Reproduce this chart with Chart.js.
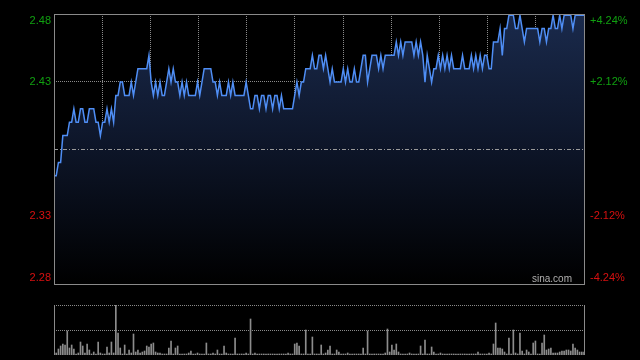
<!DOCTYPE html>
<html>
<head>
<meta charset="utf-8">
<script src="https://cdn.jsdelivr.net/npm/chart.js@4.4.1/dist/chart.umd.min.js"></script>
<style>
  html, body { margin: 0; padding: 0; background: #000; width: 640px; height: 360px; overflow: hidden; }
  canvas { position: absolute; left: 0; }
  #main { top: 0; }
  #vol { top: 300px; }
</style>
</head>
<body>
<canvas id="main" width="640" height="300"></canvas>
<canvas id="vol" width="640" height="60"></canvas>
<script>
// ---- data ----
const prevClose = 2.38;
const maxPct = 4.24;
const leftTickValues = [2.48, 2.43, 2.33, 2.28];
const leftTickLabels = ['2.48', '2.43', '2.33', '2.28'];
const rightTickLabels = ['+4.24%', '+2.12%', '-2.12%', '-4.24%'];
const tickColors = ['#10a010', '#10a010', '#d81010', '#d81010'];

const prices = [
  2.36,2.36,2.37,2.37,2.39,2.39,2.39,2.40,2.40,2.41,
  2.40,2.40,2.41,2.41,2.40,2.40,2.41,2.41,2.41,2.40,
  2.40,2.39,2.40,2.40,2.41,2.40,2.41,2.40,2.42,2.42,
  2.43,2.43,2.42,2.42,2.42,2.43,2.42,2.43,2.44,2.44,
  2.44,2.44,2.44,2.45,2.43,2.42,2.43,2.42,2.43,2.42,
  2.42,2.43,2.44,2.43,2.44,2.43,2.43,2.42,2.43,2.42,
  2.43,2.42,2.42,2.42,2.42,2.43,2.42,2.43,2.44,2.44,
  2.44,2.44,2.43,2.43,2.42,2.43,2.42,2.42,2.42,2.43,
  2.42,2.43,2.42,2.42,2.42,2.42,2.42,2.43,2.42,2.41,
  2.41,2.42,2.42,2.41,2.42,2.42,2.41,2.42,2.42,2.41,
  2.42,2.42,2.41,2.42,2.41,2.41,2.41,2.41,2.41,2.42,
  2.43,2.42,2.43,2.43,2.44,2.44,2.44,2.45,2.44,2.44,
  2.45,2.45,2.44,2.45,2.44,2.43,2.44,2.43,2.43,2.43,
  2.43,2.44,2.43,2.44,2.43,2.43,2.44,2.43,2.43,2.44,
  2.45,2.45,2.43,2.44,2.45,2.45,2.45,2.44,2.45,2.44,
  2.45,2.45,2.45,2.45,2.45,2.46,2.45,2.46,2.45,2.46,
  2.46,2.46,2.46,2.45,2.46,2.45,2.46,2.45,2.43,2.45,
  2.44,2.43,2.44,2.44,2.45,2.44,2.45,2.44,2.45,2.44,
  2.45,2.44,2.44,2.44,2.44,2.45,2.44,2.44,2.44,2.45,
  2.44,2.45,2.44,2.45,2.44,2.45,2.45,2.44,2.44,2.46,
  2.46,2.46,2.47,2.45,2.47,2.47,2.48,2.48,2.48,2.47,
  2.47,2.48,2.47,2.46,2.47,2.47,2.47,2.47,2.47,2.47,
  2.46,2.47,2.47,2.46,2.47,2.47,2.48,2.47,2.47,2.48,
  2.47,2.48,2.48,2.48,2.48,2.47,2.48,2.48,2.48,2.48,2.48
];

const volumes = [
  26,2,6,9,11,10,24,7,10,6,
  1,2,13,9,2,11,5,1,3,1,
  13,2,1,1,8,2,13,2,50,22,
  7,1,10,1,5,2,21,3,5,2,
  3,4,9,8,11,12,3,2,2,1,
  1,1,7,14,1,7,9,1,1,1,
  1,2,4,1,1,2,1,1,1,12,
  1,1,2,1,5,1,1,9,2,1,
  1,1,17,1,1,1,1,2,1,36,
  1,2,1,1,1,1,1,1,1,1,
  1,1,1,1,1,1,2,1,1,11,
  12,9,1,1,25,1,1,18,1,1,
  1,10,1,2,5,9,1,1,5,3,
  1,1,1,2,1,1,1,1,1,1,
  7,1,24,1,1,1,1,1,1,1,
  2,26,3,10,5,11,3,1,1,1,
  1,2,1,1,1,1,9,1,15,1,
  1,8,3,1,1,2,1,1,1,1,
  1,1,1,1,1,1,1,1,1,1,
  1,1,3,1,1,1,1,2,1,11,
  32,7,7,6,3,1,17,1,25,2,
  1,22,4,1,5,3,1,12,14,1,
  1,12,20,5,6,7,2,2,2,3,
  4,4,5,5,4,11,7,5,3,3,3
];
const volumeMax = 50;

// minute index for each point (categories)
const minutes = prices.map((_, i) => i);
const xGridCount = 11;

// ---- helpers ----
const FONT = '11px "Liberation Sans", Arial, sans-serif';

const mainDecor = {
  id: 'mainDecor',
  afterDraw(chart) {
    const { ctx, chartArea: a, scales } = chart;
    const y = scales.y;
    ctx.save();
    // prev close line
    const yp = Math.round(y.getPixelForValue(prevClose)) + 0.5;
    ctx.strokeStyle = '#9a9a9a';
    ctx.lineWidth = 1;
    ctx.setLineDash([4, 2, 1, 2]);
    ctx.beginPath();
    ctx.moveTo(a.left, yp);
    ctx.lineTo(a.right, yp);
    ctx.stroke();
    ctx.setLineDash([]);
    // frame
    ctx.strokeStyle = '#8a8a8a';
    ctx.strokeRect(Math.round(a.left) + 0.5, Math.round(a.top) + 0.5,
                   Math.round(a.right - a.left), Math.round(a.bottom - a.top));
    // labels
    ctx.font = FONT;
    ctx.textBaseline = 'middle';
    leftTickValues.forEach((v, k) => {
      let py = y.getPixelForValue(v);
      py = Math.min(Math.max(py, a.top + 7), a.bottom - 6);
      ctx.fillStyle = tickColors[k];
      ctx.textAlign = 'right';
      ctx.fillText(leftTickLabels[k], a.left - 3, py);
      ctx.textAlign = 'left';
      ctx.fillText(rightTickLabels[k], a.right + 6, py);
    });
    // watermark
    ctx.font = '10px "Liberation Sans", Arial, sans-serif';
    ctx.fillStyle = '#b0b0b0';
    ctx.textAlign = 'left';
    ctx.fillText('sina.com', a.right - 52, a.bottom - 5);
    ctx.restore();
  }
};

const volDecor = {
  id: 'volDecor',
  afterDraw(chart) {
    const { ctx, chartArea: a } = chart;
    ctx.save();
    ctx.strokeStyle = '#8a8a8a';
    ctx.lineWidth = 1;
    ctx.beginPath();
    ctx.moveTo(Math.round(a.left) + 0.5, a.top);
    ctx.lineTo(Math.round(a.left) + 0.5, a.bottom);
    ctx.moveTo(Math.round(a.right) + 0.5, a.top);
    ctx.lineTo(Math.round(a.right) + 0.5, a.bottom);
    ctx.stroke();
    ctx.restore();
  }
};

// ---- main chart ----
new Chart(document.getElementById('main'), {
  type: 'line',
  data: {
    datasets: [{
      data: prices.map((p, i) => ({ x: minutes[i], y: p })),
      borderColor: '#4f8ef5',
      borderWidth: 1.5,
      pointRadius: 0,
      tension: 0,
      fill: 'start',
      backgroundColor(ctx) {
        const ca = ctx.chart.chartArea;
        if (!ca) return '#101a30';
        const g = ctx.chart.ctx.createLinearGradient(0, ca.top, 0, ca.bottom);
        g.addColorStop(0, '#1a2a4c');
        g.addColorStop(0.5, '#0d1528');
        g.addColorStop(1, '#000000');
        return g;
      }
    }]
  },
  options: {
    responsive: false,
    animation: false,
    devicePixelRatio: 1,
    layout: { padding: { left: 54, right: 56, top: 14, bottom: 16 } },
    plugins: { legend: { display: false }, tooltip: { enabled: false } },
    scales: {
      x: {
        type: 'linear',
        min: 0,
        max: minutes.length - 1,
        z: 1,
        afterBuildTicks(scale) {
          const t = [];
          for (let k = 1; k < xGridCount; k++) t.push({ value: (minutes.length - 1) * k / xGridCount });
          scale.ticks = t;
        },
        ticks: { display: false },
        grid: { color: '#8a8a8a', drawTicks: false, lineWidth: 1 },
        border: { display: false, dash: [1, 1] }
      },
      y: {
        min: prevClose * (1 - maxPct / 100),
        max: prevClose * (1 + maxPct / 100),
        z: 1,
        afterBuildTicks(scale) {
          scale.ticks = [{ value: prevClose * (1 - maxPct / 200) }, { value: prevClose * (1 + maxPct / 200) }];
        },
        ticks: { display: false },
        grid: { color: '#8a8a8a', drawTicks: false, lineWidth: 1 },
        border: { display: false, dash: [1, 1] }
      }
    }
  },
  plugins: [mainDecor]
});

// ---- volume chart ----
new Chart(document.getElementById('vol'), {
  type: 'bar',
  data: {
    datasets: [{
      data: volumes.map((v, i) => ({ x: minutes[i], y: v })),
      backgroundColor: '#8c8c8c',
      barThickness: 1,
      borderWidth: 0
    }]
  },
  options: {
    responsive: false,
    animation: false,
    devicePixelRatio: 1,
    layout: { padding: { left: 54, right: 56, top: 5, bottom: 5 } },
    plugins: { legend: { display: false }, tooltip: { enabled: false } },
    scales: {
      x: {
        type: 'linear',
        min: 0,
        max: minutes.length - 1,
        offset: false,
        ticks: { display: false },
        grid: { display: false, drawTicks: false },
        border: { display: false }
      },
      y: {
        min: 0,
        max: volumeMax,
        z: 1,
        afterBuildTicks(scale) {
          scale.ticks = [{ value: volumeMax / 2 }, { value: volumeMax }];
        },
        ticks: { display: false },
        grid: { color: '#8a8a8a', drawTicks: false, lineWidth: 1 },
        border: { display: false, dash: [1, 1] }
      }
    }
  },
  plugins: [volDecor]
});
</script>
</body>
</html>
